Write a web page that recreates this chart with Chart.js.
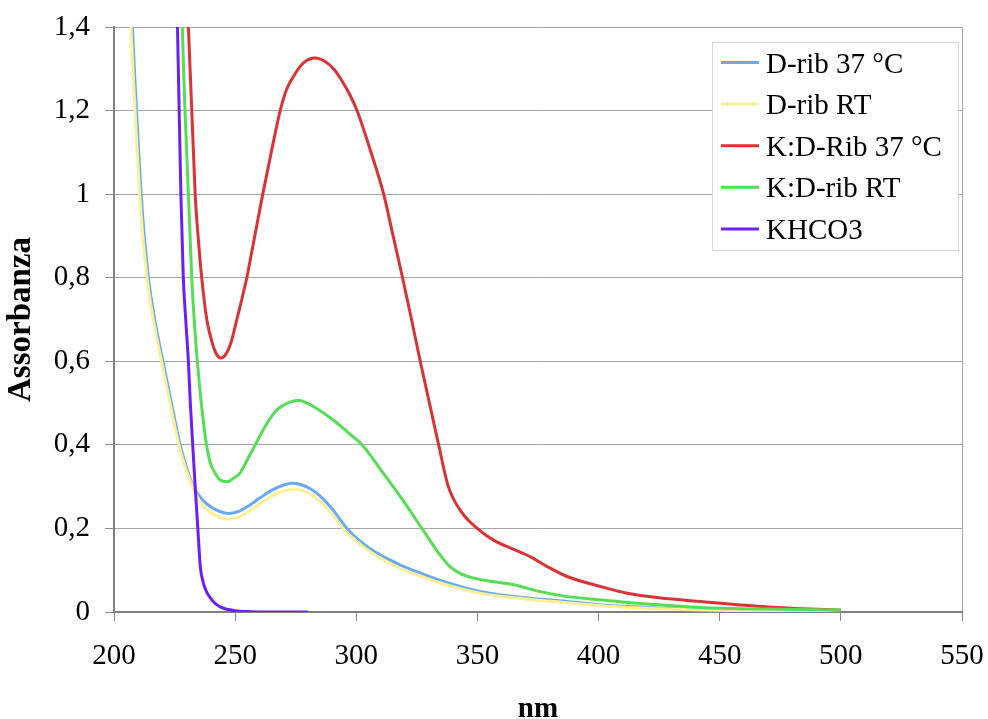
<!DOCTYPE html>
<html>
<head>
<meta charset="utf-8">
<script src="https://cdn.jsdelivr.net/npm/chart.js@4.4.1/dist/chart.umd.min.js"></script>
<style>
  html, body { margin: 0; padding: 0; background: #fff; }
  canvas { display: block; }
</style>
</head>
<body>
<canvas id="myChart" width="988" height="719"></canvas>
<script>
// series names
const seriesNames = ['D-rib 37 °C', 'D-rib RT', 'K:D-Rib 37 °C', 'K:D-rib RT', 'KHCO3'];
const seriesColors = ['#66aaf8', '#fbf096', '#db3236', '#55dd55', '#6a1ff8'];

// D-rib 37 °C
const drib37Nm  = [207.6, 208.4, 209.3, 210.2, 211.2, 212.5, 214.2, 216.8, 220.2, 223.7, 227.3, 229.7, 232.7, 236.3, 240.3, 244.0, 247.2, 251.0, 255.0, 260.0, 265.0, 270.0, 273.4, 277.0, 281.0, 285.0, 290.0, 296.1, 303.0, 310.0, 318.0, 326.0, 336.0, 351.0, 365.0, 387.0, 401.0, 420.0, 442.0, 470.0, 500.0];
const drib37Abs = [1.40, 1.30, 1.20, 1.10, 1.00, 0.90, 0.80, 0.70, 0.60, 0.50, 0.40, 0.35, 0.30, 0.27, 0.25, 0.240, 0.236, 0.240, 0.252, 0.272, 0.291, 0.304, 0.308, 0.305, 0.295, 0.278, 0.247, 0.200, 0.163, 0.136, 0.113, 0.094, 0.073, 0.049, 0.037, 0.025, 0.017, 0.011, 0.006, 0.003, 0.002];

// D-rib RT
const dribRtNm  = [207.0, 207.8, 208.7, 209.6, 210.6, 211.9, 213.6, 216.2, 219.6, 223.1, 226.8, 229.2, 232.4, 236.0, 240.0, 244.0, 247.0, 251.0, 255.0, 260.0, 265.0, 270.0, 274.0, 277.5, 281.0, 285.0, 290.0, 294.5, 303.0, 310.0, 318.0, 326.0, 336.0, 351.0, 365.0, 387.0, 401.0, 420.0, 442.0, 470.0, 500.0];
const dribRtAbs = [1.40, 1.30, 1.20, 1.10, 1.00, 0.90, 0.80, 0.70, 0.60, 0.50, 0.40, 0.35, 0.30, 0.26, 0.238, 0.226, 0.222, 0.226, 0.238, 0.258, 0.277, 0.290, 0.294, 0.291, 0.282, 0.265, 0.235, 0.200, 0.156, 0.129, 0.105, 0.087, 0.067, 0.045, 0.034, 0.022, 0.015, 0.009, 0.005, 0.002, 0.001];

// K:D-Rib 37 °C
const kdrib37Nm  = [230.7, 231.4, 232.1, 232.8, 233.5, 234.7, 236.2, 238.3, 240.5, 242.3, 244.2, 246.2, 248.3, 250.7, 254.8, 258.1, 261.4, 264.9, 268.6, 271.2, 274.0, 278.2, 283.0, 287.0, 290.6, 294.0, 297.5, 300.3, 305.8, 311.3, 315.2, 319.1, 322.8, 326.4, 330.2, 334.0, 338.0, 343.7, 349.9, 356.6, 364.0, 371.9, 380.0, 387.0, 400.8, 411.8, 425.0, 442.0, 470.0, 500.0];
const kdrib37Abs = [1.40, 1.30, 1.20, 1.10, 1.00, 0.90, 0.80, 0.70, 0.645, 0.617, 0.608, 0.617, 0.645, 0.70, 0.80, 0.90, 1.00, 1.10, 1.20, 1.25, 1.281, 1.314, 1.326, 1.318, 1.300, 1.272, 1.236, 1.200, 1.105, 1.000, 0.900, 0.800, 0.700, 0.600, 0.500, 0.400, 0.300, 0.237, 0.200, 0.172, 0.152, 0.132, 0.105, 0.085, 0.061, 0.045, 0.034, 0.025, 0.012, 0.004];

// K:D-rib RT
const kdribRtNm  = [228.2, 228.7, 229.3, 230.0, 230.7, 231.4, 232.1, 233.1, 234.4, 235.5, 236.8, 238.3, 239.6, 241.0, 243.8, 246.6, 249.3, 252.1, 254.8, 258.3, 263.1, 267.0, 270.0, 273.0, 276.4, 280.0, 283.7, 290.6, 296.5, 302.4, 309.9, 318.2, 327.1, 334.0, 338.8, 343.0, 348.5, 356.0, 365.0, 375.0, 385.7, 400.8, 420.0, 442.0, 470.0, 500.0];
const kdribRtAbs = [1.40, 1.30, 1.20, 1.10, 1.00, 0.90, 0.80, 0.70, 0.60, 0.53, 0.46, 0.396, 0.36, 0.34, 0.316, 0.312, 0.32, 0.333, 0.362, 0.40, 0.451, 0.482, 0.495, 0.503, 0.506, 0.499, 0.487, 0.459, 0.430, 0.400, 0.342, 0.276, 0.200, 0.141, 0.108, 0.092, 0.081, 0.073, 0.065, 0.050, 0.038, 0.029, 0.019, 0.011, 0.007, 0.005];

// KHCO3
const khco3Nm  = [226.2, 226.9, 227.6, 228.6, 229.6, 230.7, 231.5, 232.5, 233.5, 234.6, 235.6, 236.9, 238.5, 240.4, 242.5, 245.2, 250.0, 255.0, 260.0, 280.0];
const khco3Abs = [1.40, 1.20, 1.00, 0.80, 0.70, 0.60, 0.50, 0.40, 0.30, 0.20, 0.11, 0.069, 0.045, 0.029, 0.017, 0.009, 0.003, 0.001, 0.0, 0.0];

// ticks
const xTicks = [200, 250, 300, 350, 400, 450, 500, 550];
const yTicks = [0, 0.2, 0.4, 0.6, 0.8, 1.0, 1.2, 1.4];

const allNm  = [drib37Nm, dribRtNm, kdrib37Nm, kdribRtNm, khco3Nm];
const allAbs = [drib37Abs, dribRtAbs, kdrib37Abs, kdribRtAbs, khco3Abs];

const serif = "'Liberation Serif', 'Times New Roman', serif";

function toPoints(xs, ys) {
    return xs.map((x, i) => ({ x: x, y: ys[i] }));
}

const datasets = seriesNames.map((name, i) => ({
    label: name,
    data: toPoints(allNm[i], allAbs[i]),
    borderColor: seriesColors[i],
    backgroundColor: seriesColors[i],
    borderWidth: 3,
    pointRadius: 0,
    fill: false,
    cubicInterpolationMode: 'monotone',
    clip: 0,
    order: seriesNames.length - i   // last series on top, like the original
}));

// no extra padding from the tick labels, the plot box is fixed
function noPad(scale) {
    scale.paddingLeft = 0;
    scale.paddingRight = 0;
    scale.paddingTop = 0;
    scale.paddingBottom = 0;
}

// legend in a white box, top right of the plot
const boxLegend = {
    id: 'boxLegend',
    afterDraw(chart) {
        const ctx = chart.ctx;
        const area = chart.chartArea;
        const w = 246, h = 208;
        const left = area.right - w - 4;
        const top = area.top + 15;
        ctx.save();
        ctx.fillStyle = '#ffffff';
        ctx.fillRect(left, top, w, h);
        ctx.strokeStyle = '#d8d8d8';
        ctx.lineWidth = 1;
        ctx.strokeRect(left + 0.5, top + 0.5, w, h);
        ctx.font = '29px ' + serif;
        ctx.textBaseline = 'middle';
        ctx.fillStyle = '#000';
        seriesNames.forEach((name, i) => {
            const y = top + 20.5 + i * 41.6;
            ctx.strokeStyle = seriesColors[i];
            ctx.lineWidth = 3;
            ctx.beginPath();
            ctx.moveTo(left + 9, y);
            ctx.lineTo(left + 47, y);
            ctx.stroke();
            ctx.fillText(name, left + 54, y + 2.5);
        });
        ctx.restore();
    }
};

const ctx = document.getElementById('myChart').getContext('2d');
const myChart = new Chart(ctx, {
    type: 'line',
    data: { datasets: datasets },
    options: {
        responsive: false,
        animation: false,
        layout: { padding: { top: 27, right: 26, left: 0, bottom: 0 } },
        plugins: {
            legend: { display: false },
            tooltip: { enabled: false }
        },
        scales: {
            x: {
                type: 'linear',
                min: 200,
                max: 550,
                afterBuildTicks: (scale) => { scale.ticks = xTicks.map(v => ({ value: v })); },
                afterFit: (scale) => { scale.height = 107; noPad(scale); },
                ticks: {
                    color: '#000',
                    font: { family: serif, size: 29 },
                    padding: 18,
                    maxRotation: 0
                },
                grid: {
                    color: (c) => (c.tick && c.tick.value === 550) ? '#a6a6a6' : 'rgba(0,0,0,0)',
                    tickColor: '#8c8c8c',
                    tickLength: 9,
                    lineWidth: 1
                },
                border: { display: true, color: '#808080', width: 2 },
                title: {
                    display: true,
                    text: 'nm',
                    color: '#000',
                    font: { family: serif, size: 29, weight: 'bold', lineHeight: 0.62 },
                    padding: { top: 0, bottom: 0 }
                }
            },
            y: {
                min: 0,
                max: 1.4,
                afterBuildTicks: (scale) => { scale.ticks = yTicks.map(v => ({ value: v })); },
                afterFit: (scale) => { scale.width = 114; noPad(scale); },
                ticks: {
                    color: '#000',
                    font: { family: serif, size: 29 },
                    padding: 15,
                    callback: (v) => String(Math.round(v * 10) / 10).replace('.', ',')
                },
                grid: {
                    color: '#a6a6a6',
                    tickColor: '#8c8c8c',
                    tickLength: 9,
                    lineWidth: 1
                },
                border: { display: true, color: '#808080', width: 2 },
                title: {
                    display: true,
                    text: 'Assorbanza',
                    color: '#000',
                    font: { family: serif, size: 33, weight: 'bold', lineHeight: 1.2 },
                    padding: { top: 2, bottom: 0 }
                }
            }
        }
    },
    plugins: [boxLegend]
});
</script>
</body>
</html>
